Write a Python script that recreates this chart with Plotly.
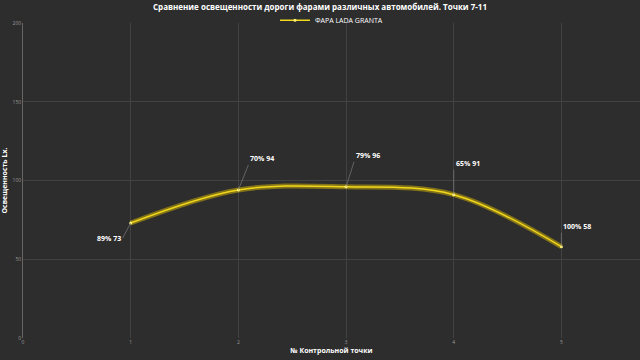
import plotly.graph_objects as go

points = [1, 2, 3, 4, 5]
values = [73, 94, 96, 91, 58]
percents = ["89%", "70%", "79%", "65%", "100%"]
series_name = "ФАРА LADA GRANTA"
title = "Сравнение освещенности дороги фарами различных автомобилей. Точки 7-11"
x_title = "№ Контрольной точки"
y_title = "Освещенность Lx."

# label offsets (pixels) for the leader lines
ax_off = [-8, 10, 8, 0, 0]
ay_off = [15, -25, -25, -25, -14]
xanchor = ["right", "left", "left", "left", "left"]

bg = "#2d2d2d"
yellow = "#f2d81c"

fig = go.Figure()
fig.add_trace(go.Scatter(x=points, y=values, mode="lines",
                         line=dict(color="rgba(235,200,0,0.45)", width=5, shape="spline", smoothing=1.0),
                         hoverinfo="skip", showlegend=False))
fig.add_trace(go.Scatter(x=points, y=values, mode="lines+markers", name=series_name,
                         line=dict(color=yellow, width=1.5, shape="spline", smoothing=1.0),
                         marker=dict(size=3, color="#fff27a")))

for i, (x, y) in enumerate(zip(points, values)):
    fig.add_annotation(x=x, y=y, text=f"<b>{percents[i]} {y}</b>", showarrow=True,
                       arrowhead=0, arrowwidth=0.6, arrowcolor="#888888",
                       ax=ax_off[i], ay=ay_off[i], xanchor=xanchor[i],
                       yanchor="bottom" if ay_off[i] < 0 else "middle",
                       font=dict(size=7, color="#ffffff", family="Open Sans"))

fig.update_layout(
    width=640, height=360,
    paper_bgcolor=bg, plot_bgcolor=bg,
    margin=dict(l=23, r=0, t=23, b=22, autoexpand=False),
    title=dict(text=f"<b>{title}</b>", x=0.5, xanchor="center", y=0.98, yanchor="middle",
               yref="container", font=dict(size=8, color="#ffffff", family="Open Sans")),
    legend=dict(orientation="h", x=0.5, xanchor="center", y=0.944, yanchor="middle",
                yref="container", font=dict(size=7, color="#ffffff", family="Open Sans"),
                bgcolor="rgba(0,0,0,0)", itemwidth=30),
    xaxis=dict(range=[0, 5.73], tickvals=[0, 1, 2, 3, 4, 5], showgrid=True,
               gridcolor="#424242", gridwidth=0.6, zeroline=False,
               tickfont=dict(size=5, color="#999999"), ticks="",
               title=dict(text=f"<b>{x_title}</b>", font=dict(size=7, color="#ffffff", family="Open Sans"), standoff=4)),
    yaxis=dict(range=[0, 200], tickvals=[0, 50, 100, 150, 200], showgrid=True,
               gridcolor="#424242", gridwidth=0.6, zeroline=False,
               showline=True, linecolor="#666666", linewidth=0.6,
               tickfont=dict(size=5, color="#999999"), ticks="",
               title=dict(text=f"<b>{y_title}</b>", font=dict(size=7, color="#ffffff", family="Open Sans"), standoff=4)),
)

fig.write_html("out.html")
